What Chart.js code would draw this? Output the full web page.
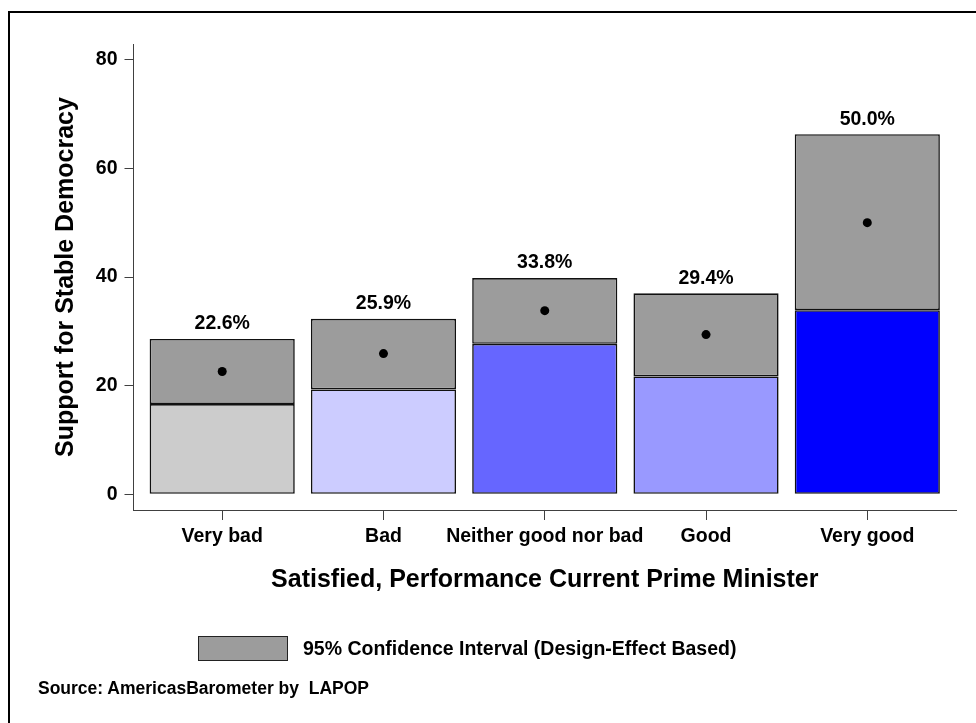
<!DOCTYPE html>
<html>
<head>
<meta charset="utf-8">
<script src="https://cdn.jsdelivr.net/npm/chart.js@4.4.1/dist/chart.umd.min.js"></script>
<style>
  body { margin: 0; background: #fff; font-family: "Liberation Sans", Arial, sans-serif; }
  #wrap { position: relative; width: 976px; height: 723px; overflow: hidden; }
  #frame { position: absolute; left: 8px; top: 11px; width: 980px; height: 730px;
           border-left: 2px solid #000; border-top: 2px solid #000; }
  #chart { position: absolute; left: 0; top: 0; }
  .legend { position: absolute; left: 198px; top: 636px; display: flex; align-items: center;
            font-weight: bold; font-size: 19.5px; color: #000; }
  .legend .box { width: 88px; height: 23px; background: #9c9c9c; border: 1px solid #222;
                 margin-right: 15px; }
  .source { position: absolute; left: 38px; top: 678px; font-weight: bold; font-size: 17.5px; color: #000; }
</style>
</head>
<body>
<div id="wrap">
  <div id="frame"></div>
  <canvas id="chart" width="976" height="723"></canvas>
  <div class="legend"><div class="box"></div><span>95% Confidence Interval (Design-Effect Based)</span></div>
  <div class="source">Source: AmericasBarometer by&nbsp; LAPOP</div>
</div>
<script>
// data
const categories = ["Very bad", "Bad", "Neither good nor bad", "Good", "Very good"];
const means = [22.6, 25.9, 33.8, 29.4, 50.0];
const lowerCI = [16.6, 19.3, 27.7, 21.7, 33.9];
const upperCI = [28.6, 32.3, 39.8, 37.0, 66.3];
const yTicks = [0, 20, 40, 60, 80];

const barColors = ["#cccccc", "#ccccff", "#6666ff", "#9999ff", "#0000ff"];
const ciColor = "#9c9c9c";
const axisColor = "#404040";
const fontFamily = '"Liberation Sans", Arial, sans-serif';

const valueLabels = {
    id: 'valueLabels',
    afterDatasetsDraw(chart) {
        const { ctx, scales: { x, y } } = chart;
        ctx.save();
        ctx.font = 'bold 19.5px ' + fontFamily;
        ctx.fillStyle = '#000';
        ctx.textAlign = 'center';
        ctx.textBaseline = 'middle';
        means.forEach((m, i) => {
            ctx.fillText(m.toFixed(1) + '%', x.getPixelForValue(i), y.getPixelForValue(upperCI[i]) - 15);
        });
        ctx.restore();
    }
};

const baseData = categories.map((c, i) => ({ x: i, y: [0, lowerCI[i]] }));
const ciData = categories.map((c, i) => ({ x: i, y: [lowerCI[i], upperCI[i]] }));
const meanData = categories.map((c, i) => ({ x: i, y: means[i] }));

new Chart(document.getElementById('chart'), {
    type: 'bar',
    data: {
        datasets: [{
            label: 'Mean',
            type: 'scatter',
            data: meanData,
            pointRadius: 4.5,
            pointBackgroundColor: '#000',
            pointBorderWidth: 0,
            order: 0
        }, {
            label: '95% Confidence Interval (Design-Effect Based)',
            data: ciData,
            backgroundColor: ciColor,
            borderColor: '#111',
            borderWidth: 1.6,
            borderSkipped: false,
            grouped: false,
            categoryPercentage: 1,
            barPercentage: 0.9,
            order: 1
        }, {
            label: 'Support',
            data: baseData,
            backgroundColor: barColors,
            borderColor: '#111',
            borderWidth: 1.6,
            borderSkipped: false,
            grouped: false,
            categoryPercentage: 1,
            barPercentage: 0.9,
            order: 2
        }]
    },
    options: {
        responsive: false,
        animation: false,
        layout: { padding: { left: 40, top: 44, right: 20, bottom: 123 } },
        plugins: {
            legend: { display: false },
            tooltip: { enabled: false }
        },
        scales: {
            x: {
                type: 'linear',
                min: -0.55,
                max: 4.55,
                offset: false,
                afterBuildTicks: s => { s.ticks = categories.map((c, i) => ({ value: i })); },
                afterFit: s => { s.height = 90; },
                ticks: {
                    autoSkip: false,
                    maxRotation: 0,
                    padding: 5,
                    color: '#000',
                    font: { family: fontFamily, size: 19.5, weight: 'bold' },
                    callback: v => categories[v]
                },
                grid: { offset: false, drawOnChartArea: false, tickLength: 10, color: axisColor },
                border: { color: axisColor, width: 1 },
                title: {
                    display: true,
                    text: 'Satisfied, Performance Current Prime Minister',
                    color: '#000',
                    font: { family: fontFamily, size: 25, weight: 'bold' },
                    padding: { top: 0, bottom: 5 }
                }
            },
            y: {
                type: 'linear',
                min: -2.9,
                max: 82.9,
                afterBuildTicks: s => { s.ticks = yTicks.map(v => ({ value: v })); },
                afterFit: s => { s.width = 93.5; },
                ticks: {
                    padding: 7,
                    color: '#000',
                    font: { family: fontFamily, size: 19.5, weight: 'bold' }
                },
                grid: { drawOnChartArea: false, tickLength: 9, color: axisColor },
                border: { color: axisColor, width: 1 },
                title: {
                    display: true,
                    text: 'Support for Stable Democracy',
                    color: '#000',
                    font: { family: fontFamily, size: 25, weight: 'bold' },
                    padding: { top: 11, bottom: 0 }
                }
            }
        }
    },
    plugins: [valueLabels]
});
</script>
</body>
</html>
